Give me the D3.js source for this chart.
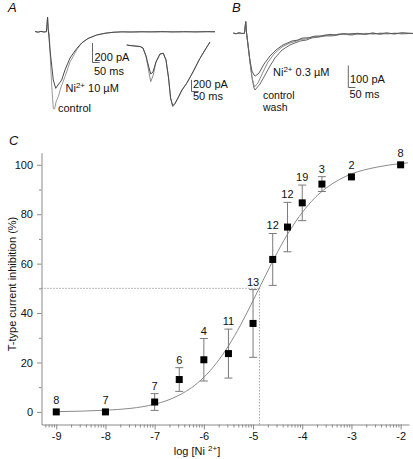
<!DOCTYPE html>
<html><head><meta charset="utf-8">
<script src="https://cdn.jsdelivr.net/npm/d3@7"></script>
<style>
body{margin:0;background:#fff;}
text{font-family:"Liberation Sans",Arial,sans-serif;fill:#111;}
</style></head>
<body>
<svg id="chart" width="413" height="459"></svg>
<script>
// ---------- Panel C data ----------
const logConc    = [-9, -8, -7, -6.5, -6, -5.5, -5, -4.6, -4.3, -4, -3.6, -3, -2];
const inhibition = [0, 0, 4.0, 13.1, 21.1, 23.6, 35.8, 61.7, 74.8, 84.6, 92.2, 95.1, 100];
const sem        = [0, 0, 3.4, 4.8, 8.6, 9.9, 13.7, 10.5, 10.0, 7.2, 3.0, 0, 0];
const nCells     = [8, 7, 7, 6, 4, 11, 13, 12, 12, 19, 3, 2, 8];
const fitLog = [-9, -8.5, -8, -7.5, -7, -6.75, -6.5, -6.25, -6, -5.75, -5.5, -5.25, -5, -4.75, -4.5, -4.25, -4, -3.75, -3.5, -3.25, -3, -2.5, -2, -1.85];
const fitVal = [0.1, 0.3, 0.7, 1.4, 3.1, 4.6, 6.8, 9.8, 14.0, 19.6, 26.7, 35.3, 45.0, 55.1, 64.8, 73.5, 80.7, 86.5, 90.8, 94.0, 96.3, 99.0, 100.5, 100.8];
const ic50Log = -4.87, halfEffect = 50;
const xTickValues = [-9, -8, -7, -6, -5, -4, -3, -2];
const yTickValues = [0, 20, 40, 60, 80, 100];
const yMinorValues = [10, 30, 50, 70, 90];

// ---------- Panel A traces (time ms, current pA) ----------
const a1Control = [[0,2],[21,-5],[42,3],[63,-3],[80,0],[88,151],[93,18],[100,-24],[110,-361],[119,-600],[128,-789],[137,-796],[147,-724],[163,-670],[182,-570],[210,-464],[245,-312],[292,-188],[327,-116],[371,-70],[432,-34],[490,-16],[546,-6],[600,-3],[665,-1],[720,-4],[805,1],[860,-3],[930,1],[1015,-2],[1100,1],[1180,-2],[1260,0]];
const a1Nickel  = [[0,2],[21,-5],[42,3],[63,-3],[80,0],[88,151],[93,18],[105,-188],[128,-497],[145,-583],[161,-549],[187,-497],[210,-394],[245,-271],[292,-173],[327,-116],[371,-70],[432,-34],[490,-16],[546,-6],[610,-1],[665,-4],[740,0],[805,-3],[880,1],[960,-3],[1040,0],[1120,-3],[1200,1],[1260,-1]];
const a2Control = [[0,9],[23,0],[58,-9],[93,-17],[114,-43],[135,-180],[153,-419],[168,-619],[184,-522],[205,-282],[233,-145],[256,-133],[275,-248],[293,-556],[307,-898],[322,-1047],[338,-1000],[359,-898],[387,-761],[420,-646],[464,-453],[513,-219],[548,-77],[583,60]];
const a2Nickel  = [[0,9],[23,0],[58,-9],[93,-17],[114,-43],[135,-180],[153,-351],[168,-487],[184,-453],[205,-282],[233,-145],[256,-133],[275,-248],[293,-556],[307,-898],[322,-1030],[338,-990],[359,-898],[387,-761],[420,-646],[464,-453],[513,-219],[548,-77],[583,60]];

// ---------- Panel B traces ----------
const bControl = [[0,1],[19,-2],[40,2],[61,-1],[78,0],[87,53],[92,6],[103,-53],[117,-131],[131,-203],[145,-249],[152,-258],[187,-231],[222,-190],[257,-149],[292,-112],[341,-76],[397,-53],[467,-35],[510,-31],[551,-21],[600,-17],[642,-12],[690,-12],[740,-6],[782,-5],[830,-8],[880,-1],[930,-4],[980,1],[1030,-4],[1080,0],[1130,-3],[1180,1],[1258,-1]];
const bWash    = [[0,1],[19,-2],[40,2],[61,-1],[78,0],[87,53],[92,6],[103,-53],[117,-131],[131,-200],[148,-244],[173,-226],[208,-176],[243,-131],[285,-94],[341,-62],[397,-44],[440,-36],[467,-28],[510,-26],[551,-17],[600,-15],[642,-8],[690,-10],[740,-3],[782,-6],[830,-1],[880,-5],[930,0],[980,-4],[1030,1],[1080,-3],[1130,1],[1180,-3],[1258,0]];
const bNickel  = [[0,1],[19,-2],[40,2],[61,-1],[78,0],[87,53],[92,6],[103,-53],[117,-125],[131,-172],[145,-190],[155,-194],[180,-181],[215,-140],[257,-103],[299,-76],[348,-53],[411,-35],[450,-31],[481,-22],[530,-20],[572,-13],[620,-12],[677,-5],[720,-8],[770,-1],[817,-4],[870,0],[920,-5],[970,1],[1020,-3],[1070,2],[1120,-2],[1180,2],[1258,-1]];

const svg = d3.select("#chart");
const FONT = 11;

function drawTraces(traces, xs, ys) {
  const line = d3.line().x(d => xs(d[0])).y(d => ys(d[1]));
  traces.forEach(t => {
    svg.append("path").attr("d", line(t.data)).attr("fill", "none")
      .attr("stroke", t.color).attr("stroke-width", 1).attr("stroke-linejoin", "round");
  });
}
function scaleBar(xs, ys, x0, yBottom, ms, pA) {
  const h = ys(-pA) - ys(0);
  const w = xs(ms) - xs(0);
  svg.append("path").attr("fill", "none").attr("stroke", "#666")
    .attr("d", `M${x0},${yBottom - h}V${yBottom}H${x0 + w}`);
}
function labelText(x, y, parts) {
  const t = svg.append("text").attr("x", x).attr("y", y).style("font-size", FONT + "px");
  parts.forEach(p => {
    if (p.sup) t.append("tspan").attr("dy", -4).style("font-size", "8px").text(p.sup);
    else t.append("tspan").attr("dy", p.after ? 4 : 0).text(p.t);
  });
  return t;
}
function simpleText(x, y, s, size) {
  return svg.append("text").attr("x", x).attr("y", y).style("font-size", (size || FONT) + "px").text(s);
}

// Panel letters
svg.append("text").attr("x", 8).attr("y", 12).style("font-size", "13px").style("font-style", "italic").text("A");
svg.append("text").attr("x", 232).attr("y", 12).style("font-size", "13px").style("font-style", "italic").text("B");
svg.append("text").attr("x", 9).attr("y", 145).style("font-size", "13px").style("font-style", "italic").text("C");

// ---------- Panel A, first recording ----------
const a1x = d3.scaleLinear().domain([0, 1260]).range([35, 215]);
const a1y = d3.scaleLinear().domain([0, -800]).range([31.7, 109.4]);
drawTraces([{data: a1Control, color: "#9a9a9a"}, {data: a1Nickel, color: "#4a4a4a"}], a1x, a1y);
scaleBar(a1x, a1y, 92.5, 62.5, 50, 200);
simpleText(94.5, 61, "200 pA");
simpleText(94, 74.5, "50 ms");
labelText(65.5, 92, [{t: "Ni"}, {sup: "2+"}, {t: " 10 µM", after: true}]);
simpleText(58, 112, "control");

// ---------- Panel A, second recording ----------
const a2x = d3.scaleLinear().domain([0, 583]).range([126.7, 210]);
const a2y = d3.scaleLinear().domain([0, -1047]).range([45.5, 106.7]);
drawTraces([{data: a2Control, color: "#8a8a8a"}, {data: a2Nickel, color: "#4a4a4a"}], a2x, a2y);
scaleBar(a2x, a2y, 191.5, 91.5, 50, 200);
simpleText(193, 88, "200 pA");
simpleText(193, 100, "50 ms");

// ---------- Panel B ----------
const bx = d3.scaleLinear().domain([0, 1258]).range([233.3, 413]);
const by = d3.scaleLinear().domain([0, -258]).range([33.3, 90]);
drawTraces([{data: bControl, color: "#6a6a6a"}, {data: bWash, color: "#8a8a8a"}, {data: bNickel, color: "#5a5a5a"}], bx, by);
scaleBar(bx, by, 348.3, 87.5, 50, 100);
simpleText(350, 83, "100 pA");
simpleText(349.5, 98, "50 ms");
labelText(273, 75.5, [{t: "Ni"}, {sup: "2+"}, {t: " 0.3 µM", after: true}]);
simpleText(263, 98.5, "control", 10.5);
simpleText(263, 110.5, "wash", 10.5);

// ---------- Panel C ----------
const x = d3.scaleLinear().domain([-9.3, -1.83]).range([41.5, 409]);
const y = d3.scaleLinear().domain([-5.1, 104.9]).range([424.5, 152.7]);
const axisColor = "#8a8a8a";

const minorX = [];
for (let dec = -10; dec <= -2; dec++) {
  for (let k = 2; k <= 9; k++) {
    const v = dec + Math.log10(k);
    if (v >= -9.3 && v <= -1.83) minorX.push(v);
  }
}
const gx = svg.append("g").attr("transform", "translate(0,424.5)");
gx.call(d3.axisBottom(x).tickValues(minorX).tickSize(3).tickSizeOuter(0).tickFormat(""));
gx.call(g => g.select(".domain").remove());
const gx2 = svg.append("g").attr("transform", "translate(0,424.5)");
gx2.call(d3.axisBottom(x).tickValues(xTickValues).tickSize(5).tickSizeOuter(0).tickPadding(3).tickFormat(d => String(d)));
const gy = svg.append("g").attr("transform", "translate(41.5,0)");
gy.call(d3.axisLeft(y).tickValues(yMinorValues).tickSize(2.5).tickSizeOuter(0).tickFormat(""));
gy.call(g => g.select(".domain").remove());
const gy2 = svg.append("g").attr("transform", "translate(41.5,0)");
gy2.call(d3.axisLeft(y).tickValues(yTickValues).tickSize(4.5).tickSizeOuter(0).tickPadding(4).tickFormat(d => String(d)));
[gx, gx2, gy, gy2].forEach(g => {
  g.selectAll("line").attr("stroke", axisColor);
  g.selectAll(".domain").attr("stroke", axisColor);
  g.selectAll("text").style("font-size", FONT + "px").style("font-family", '"Liberation Sans",Arial,sans-serif').attr("fill", "#111");
});

// axis titles
svg.append("text").attr("transform", "translate(15.5,284) rotate(-90)").attr("text-anchor", "middle")
  .style("font-size", FONT + "px").text("T-type current inhibition (%)");
const xt = svg.append("text").attr("x", 197).attr("y", 455).attr("text-anchor", "middle").style("font-size", FONT + "px");
xt.append("tspan").text("log [Ni ");
xt.append("tspan").attr("dy", -4).style("font-size", "8px").text("2+");
xt.append("tspan").attr("dy", 4).text("]");

// dotted IC50 guides
svg.append("line").attr("x1", x(-9.3)).attr("x2", x(ic50Log)).attr("y1", y(halfEffect)).attr("y2", y(halfEffect))
  .attr("stroke", "#777").attr("stroke-dasharray", "1,2");
svg.append("line").attr("x1", x(ic50Log)).attr("x2", x(ic50Log)).attr("y1", y(halfEffect)).attr("y2", y(-5.1))
  .attr("stroke", "#777").attr("stroke-dasharray", "1,2");

// fitted curve
const fitData = fitLog.map((v, i) => [v, fitVal[i]]);
svg.append("path").attr("d", d3.line().x(d => x(d[0])).y(d => y(d[1])).curve(d3.curveMonotoneX)(fitData))
  .attr("fill", "none").attr("stroke", "#8a8a8a").attr("stroke-width", 1);

// points
const pts = logConc.map((v, i) => ({lx: v, m: inhibition[i], s: sem[i], n: nCells[i]}));
const eb = svg.append("g").attr("stroke", "#7a7a7a").attr("stroke-width", 1);
pts.filter(d => d.s > 0).forEach(d => {
  const cx = x(d.lx);
  eb.append("line").attr("x1", cx).attr("x2", cx).attr("y1", y(d.m - d.s)).attr("y2", y(d.m + d.s));
  [d.m - d.s, d.m + d.s].forEach(v => eb.append("line").attr("x1", cx - 4).attr("x2", cx + 4).attr("y1", y(v)).attr("y2", y(v)));
});
svg.append("g").selectAll("rect").data(pts).join("rect")
  .attr("x", d => x(d.lx) - 3.5).attr("y", d => y(d.m) - 3.5).attr("width", 7).attr("height", 7).attr("fill", "#000");
svg.append("g").selectAll("text").data(pts).join("text")
  .attr("x", d => x(d.lx)).attr("y", d => (d.s > 0 ? y(d.m + d.s) : y(d.m) - 3.5) - 4)
  .attr("text-anchor", "middle").style("font-size", FONT + "px").text(d => d.n);
</script>
</body></html>
